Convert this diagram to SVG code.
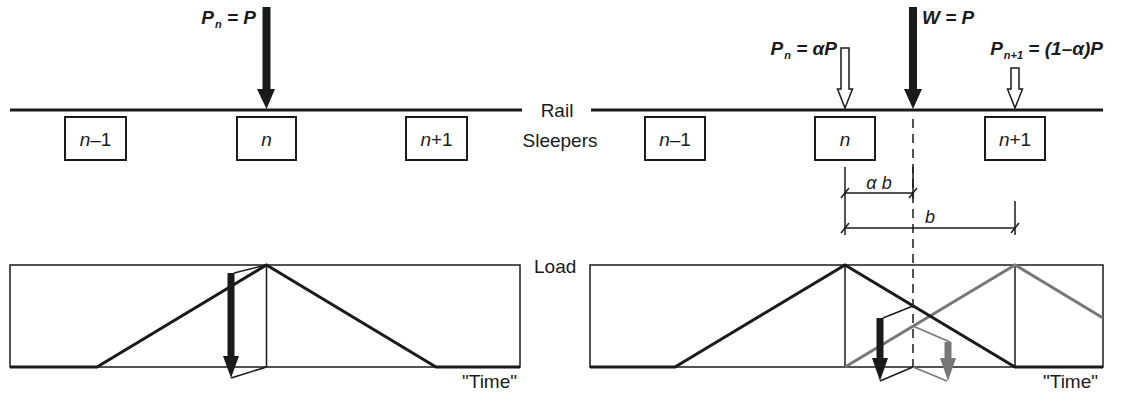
<svg xmlns="http://www.w3.org/2000/svg" width="1123" height="410" viewBox="0 0 1123 410">
<style>
  text { font-family: "Liberation Sans", Arial, sans-serif; fill: #1a1a1a; }
  .lbl { font-size: 19px; }
  .eq { font-size: 19px; font-weight: bold; font-style: italic; }
  .sub { font-size: 11px; }
  .it { font-style: italic; }
  .rail { stroke: #1a1a1a; stroke-width: 3; fill: none; }
  .box { stroke: #1a1a1a; stroke-width: 2; fill: #fff; }
  .frame { stroke: #1a1a1a; stroke-width: 1.5; fill: none; }
  .thin { stroke: #1a1a1a; stroke-width: 1.5; fill: none; }
  .thingray { stroke: #777; stroke-width: 1.5; fill: none; }
  .curve { stroke: #1a1a1a; stroke-width: 3; fill: none; stroke-linejoin: miter; }
  .curvegray { stroke: #777; stroke-width: 3; fill: none; }
  .dash { stroke: #1a1a1a; stroke-width: 1.5; stroke-dasharray: 9 6; fill: none; }
  .dim { stroke: #1a1a1a; stroke-width: 1.5; fill: none; }
  .solid { fill: #1a1a1a; stroke: none; }
  .open { fill: #fff; stroke: #1a1a1a; stroke-width: 1.5; }
</style>

<!-- Rails -->
<g id="rails">
  <line class="rail" x1="10" y1="110" x2="522" y2="110"/>
  <line class="rail" x1="591" y1="110" x2="1103" y2="110"/>
  <text class="lbl" x="557" y="117" text-anchor="middle">Rail</text>
  <text class="lbl" x="560" y="147" text-anchor="middle">Sleepers</text>
</g>

<!-- Left sleepers -->
<g id="left-sleeper-n-1">
  <rect class="box" x="65" y="117" width="61" height="43"/>
  <text class="lbl" x="95.5" y="146" text-anchor="middle"><tspan class="it">n</tspan>–1</text>
</g>
<g id="left-sleeper-n">
  <rect class="box" x="237" y="117" width="59" height="43"/>
  <text class="lbl it" x="266.5" y="146" text-anchor="middle">n</text>
</g>
<g id="left-sleeper-n+1">
  <rect class="box" x="406" y="117" width="61" height="43"/>
  <text class="lbl" x="436.5" y="146" text-anchor="middle"><tspan class="it">n</tspan>+1</text>
</g>

<!-- Right sleepers -->
<g id="right-sleeper-n-1">
  <rect class="box" x="645" y="117" width="60" height="43"/>
  <text class="lbl" x="675" y="146" text-anchor="middle"><tspan class="it">n</tspan>–1</text>
</g>
<g id="right-sleeper-n">
  <rect class="box" x="815" y="117" width="60" height="43"/>
  <text class="lbl it" x="845" y="146" text-anchor="middle">n</text>
</g>
<g id="right-sleeper-n+1">
  <rect class="box" x="985" y="117" width="60" height="43"/>
  <text class="lbl" x="1015" y="146" text-anchor="middle"><tspan class="it">n</tspan>+1</text>
</g>

<!-- Loads on rail -->
<g id="load-left">
  <rect class="solid" x="262.5" y="7" width="8" height="83"/>
  <polygon class="solid" points="257,89 275,89 266.5,109"/>
  <text class="eq" x="256" y="24" text-anchor="end">P<tspan class="sub" dx="1" dy="4">n</tspan><tspan dy="-4"> = P</tspan></text>
</g>
<g id="load-W">
  <rect class="solid" x="909" y="7" width="8" height="83"/>
  <polygon class="solid" points="904,89 922,89 913,109"/>
  <text class="eq" x="922" y="24">W = P</text>
</g>
<g id="load-Pn">
  <path class="open" d="M841,48 H849 V89 H852.5 L845,108 L837.5,89 H841 Z"/>
  <text class="eq" x="837" y="55" text-anchor="end">P<tspan class="sub" dx="1" dy="4">n</tspan><tspan dy="-4"> = αP</tspan></text>
</g>
<g id="load-Pn1">
  <path class="open" d="M1011,68 H1019 V89 H1022.5 L1015,108 L1007.5,89 H1011 Z"/>
  <text class="eq" x="1103" y="55" text-anchor="end">P<tspan class="sub" dx="1" dy="4">n+1</tspan><tspan dy="-4"> = (1–α)P</tspan></text>
</g>

<!-- Dimensions -->
<g id="dimensions">
  <line class="dash" x1="913" y1="119" x2="913" y2="367"/>
  <line class="dim" x1="845" y1="167" x2="845" y2="235"/>
  <line class="dim" x1="913" y1="167" x2="913" y2="199"/>
  <line class="dim" x1="1015" y1="201" x2="1015" y2="235"/>
  <line class="dim" x1="845" y1="193" x2="913" y2="193"/>
  <line class="dim" x1="845" y1="228" x2="1015" y2="228"/>
  <line class="dim" x1="841" y1="198" x2="849" y2="188"/>
  <line class="dim" x1="909" y1="198" x2="917" y2="188"/>
  <line class="dim" x1="841" y1="233" x2="849" y2="223"/>
  <line class="dim" x1="1011" y1="233" x2="1019" y2="223"/>
  <text class="it" font-size="18" x="879" y="189" text-anchor="middle">α b</text>
  <text class="it" font-size="18" x="930" y="223" text-anchor="middle">b</text>
</g>

<!-- Left chart -->
<g id="chart-left">
  <rect class="frame" x="10" y="265" width="510" height="102"/>
  <line class="thin" x1="266.5" y1="265" x2="266.5" y2="367"/>
  <polyline class="curve" points="10,367 97,367 266.5,265 436,367 520,367"/>
  <line class="thin" x1="234" y1="273" x2="266.5" y2="265"/>
  <line class="thin" x1="231" y1="378" x2="266.5" y2="367"/>
  <rect class="solid" x="227.5" y="273" width="7" height="85"/>
  <polygon class="solid" points="223,356 239,356 231,378"/>
  <text class="lbl" x="462" y="388">"Time"</text>
</g>

<!-- Right chart -->
<g id="chart-right">
  <rect class="frame" x="590" y="265" width="513" height="102"/>
  <line class="thin" x1="845" y1="265" x2="845" y2="367"/>
  <line class="thin" x1="1015" y1="265" x2="1015" y2="367"/>
  <polyline class="curvegray" points="845,367 1015,265 1103,318"/>
  <polyline class="curve" points="590,367 675,367 845,265 1015,367 1103,367"/>
  <line class="thin" x1="883" y1="318" x2="913" y2="306"/>
  <line class="thin" x1="880" y1="381" x2="913" y2="367"/>
  <line class="thingray" x1="913" y1="326" x2="950" y2="342"/>
  <line class="thingray" x1="913" y1="367" x2="947" y2="381"/>
  <rect class="solid" x="876.5" y="318" width="7" height="42"/>
  <polygon class="solid" points="872,358 888,358 880,381"/>
  <rect fill="#777" x="944.5" y="342" width="7" height="18"/>
  <polygon fill="#777" points="940,358 956,358 948,381"/>
  <text class="lbl" x="534" y="273">Load</text>
  <text class="lbl" x="1043" y="388">"Time"</text>
</g>
</svg>
